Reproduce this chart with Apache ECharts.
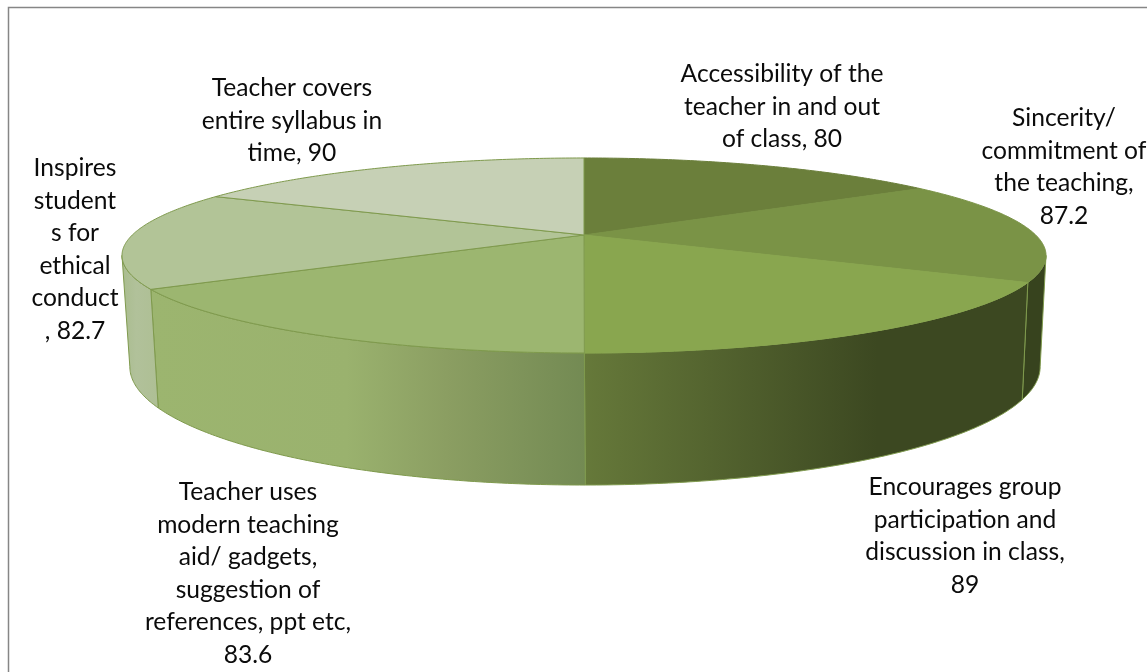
<!DOCTYPE html>
<html>
<head>
<meta charset="utf-8">
<style>html,body{margin:0;padding:0;background:#fff}#c{width:1147px;height:672px}</style>
<script src="https://cdn.jsdelivr.net/npm/echarts@6/dist/echarts.min.js"></script>
</head>
<body>
<div id="c"></div>
<script>
// data, clockwise from twelve o'clock
const categories = [
  'Accessibility of the teacher in and out of class',
  'Sincerity/ commitment of the teaching',
  'Encourages group participation and discussion in class',
  'Teacher uses modern teaching aid/ gadgets, suggestion of references, ppt etc',
  'Inspires students for ethical conduct',
  'Teacher covers entire syllabus in time'
];
const values = [80, 87.2, 89, 83.6, 82.7, 90];
// label text as wrapped in the picture
const labelLines = [
  ['Accessibility of the', 'teacher in and out', 'of class, 80'],
  ['Sincerity/', 'commitment of', 'the teaching,', '87.2'],
  ['Encourages group', 'participation and', 'discussion in class,', '89'],
  ['Teacher uses', 'modern teaching', 'aid/ gadgets,', 'suggestion of', 'references, ppt etc,', '83.6'],
  ['Inspires', 'student', 's for', 'ethical', 'conduct', ', 82.7'],
  ['Teacher covers', 'entire syllabus in', 'time, 90']
];
// style and layout
const topColors = ['#6B7F3B', '#7A9346', '#89A64F', '#9CB670', '#B2C497', '#C6D0B5'];
const wallStops = [
  [[0, '#6B7F3B'], [1, '#6B7F3B']],
  [[0, '#37431E'], [1, '#37431E']],
  [[0, '#66793A'], [0.66, '#3C4821'], [1, '#3C4821']],
  [[0, '#9CB56F'], [0.45, '#9AB26E'], [0.68, '#8B9E62'], [1, '#738A53']],
  [[0, '#A9BC8E'], [0.4, '#B1C19A'], [1, '#AEBF94']],
  [[0, '#C6D0B5'], [1, '#C6D0B5']]
];
const labelCenterX = [782, 1064, 965, 248, 75, 292];
const labelFirstLineY = [74, 118, 487, 492, 168, 88];
const lineGap = 32.6;
const topDisc = {x: 584, y: 235, a: 451.7, b: 93.2, k: 0.21};
const baseDisc = {x: 585, y: 342, a: 445, b: 113, k: 0.21};
const edgeColor = '#7F9A4D';

function project(d, theta) {
  const u = Math.sin(theta), v = -Math.cos(theta), w = 1 - d.k * v;
  return [d.x + d.a * u / w, d.y + d.b * v / w];
}
function arc(d, a0, a1) {
  const pts = [], n = Math.max(2, Math.ceil(Math.abs(a1 - a0) / 0.01));
  for (let i = 0; i <= n; i++) pts.push(project(d, a0 + (a1 - a0) * i / n));
  return pts;
}
const total = values.reduce((s, v) => s + v, 0);
const rimFrom = Math.acos(-topDisc.k);       // where the rim turns towards the viewer
const rimTo = 2 * Math.PI - rimFrom;         // where it turns away again

function renderItem(params, api) {
  const i = api.value(2);
  const a0 = api.value(0) / total * 2 * Math.PI;
  const a1 = (api.value(0) + api.value(1)) / total * 2 * Math.PI;
  const children = [];
  const from = Math.max(a0, rimFrom), to = Math.min(a1, rimTo);
  if (to > from) {
    const t = arc(topDisc, from, to), b = arc(baseDisc, from, to).reverse();
    children.push({
      type: 'polygon',
      shape: {points: t.concat(b)},
      style: {
        fill: {
          type: 'linear', x: 0, y: 0, x2: 1, y2: 0,
          colorStops: wallStops[i].map(s => ({offset: s[0], color: s[1]}))
        },
        stroke: edgeColor, lineWidth: 1, lineJoin: 'round'
      }
    });
  }
  children.push({
    type: 'polygon',
    z2: 5,
    shape: {points: [[topDisc.x, topDisc.y]].concat(arc(topDisc, a0, a1))},
    style: {fill: topColors[i], stroke: i < 3 ? topColors[i] : edgeColor, lineWidth: 1, lineJoin: 'round'}
  });
  labelLines[i].forEach((line, j) => {
    children.push({
      type: 'text',
      z2: 10,
      style: {
        text: line, x: labelCenterX[i], y: labelFirstLineY[i] + j * lineGap,
        align: 'center', verticalAlign: 'middle',
        font: '24.6px Lato, "Open Sans", sans-serif', fill: '#0b0b0b'
      }
    });
  });
  return {type: 'group', children};
}

let run = 0;
const rows = values.map((v, i) => { const r = [run, v, i, categories[i]]; run += v; return r; });
const chart = echarts.init(document.getElementById('c'), null, {renderer: 'canvas'});
chart.setOption({
  animation: false,
  backgroundColor: '#fff',
  graphic: [{
    type: 'rect', z: -1,
    shape: {x: 8.5, y: 7.5, width: 1200, height: 700},
    style: {fill: '#fff', stroke: '#868686', lineWidth: 1.5}
  }],
  series: [{
    type: 'custom',
    coordinateSystem: 'none',
    renderItem,
    data: rows,
    encode: {tooltip: 1, itemName: 3},
    silent: true
  }]
});
</script>
</body>
</html>
